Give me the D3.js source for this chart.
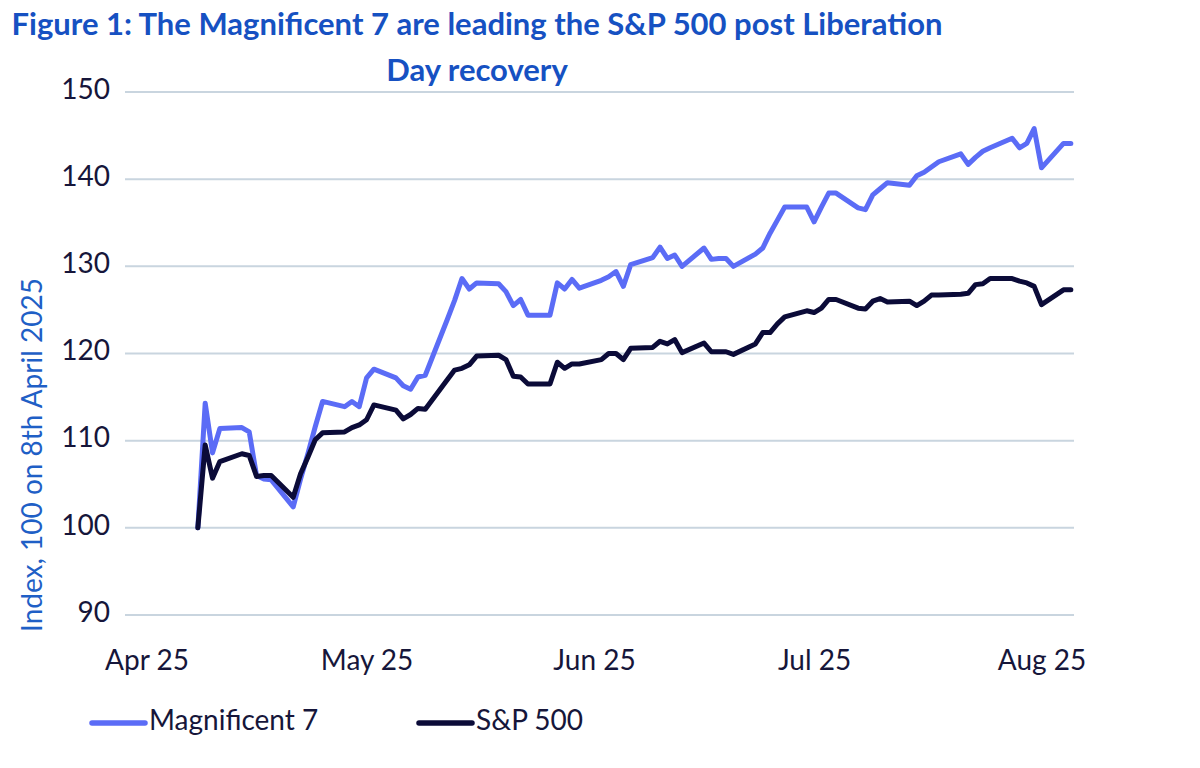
<!DOCTYPE html>
<html lang="en">
<head>
<meta charset="UTF-8">
<title>Figure 1: The Magnificent 7 vs S&amp;P 500</title>
<script src="https://cdn.jsdelivr.net/npm/d3@7"></script>
<style>
  body { margin: 0; background: #fff; }
  svg { display: block; font-family: Lato, "Noto Sans", sans-serif; }
</style>
</head>
<body>
<div id="chart"></div>
<script>
// weekdays from 8 April 2025, holidays carried forward
var dates = [
  "2025-04-08","2025-04-09","2025-04-10","2025-04-11",
  "2025-04-14","2025-04-15","2025-04-16","2025-04-17","2025-04-18",
  "2025-04-21","2025-04-22","2025-04-23","2025-04-24","2025-04-25",
  "2025-04-28","2025-04-29","2025-04-30","2025-05-01","2025-05-02",
  "2025-05-05","2025-05-06","2025-05-07","2025-05-08","2025-05-09",
  "2025-05-12","2025-05-13","2025-05-14","2025-05-15","2025-05-16",
  "2025-05-19","2025-05-20","2025-05-21","2025-05-22","2025-05-23",
  "2025-05-26","2025-05-27","2025-05-28","2025-05-29","2025-05-30",
  "2025-06-02","2025-06-03","2025-06-04","2025-06-05","2025-06-06",
  "2025-06-09","2025-06-10","2025-06-11","2025-06-12","2025-06-13",
  "2025-06-16","2025-06-17","2025-06-18","2025-06-19","2025-06-20",
  "2025-06-23","2025-06-24","2025-06-25","2025-06-26","2025-06-27",
  "2025-06-30","2025-07-01","2025-07-02","2025-07-03","2025-07-04",
  "2025-07-07","2025-07-08","2025-07-09","2025-07-10","2025-07-11",
  "2025-07-14","2025-07-15","2025-07-16","2025-07-17","2025-07-18",
  "2025-07-21","2025-07-22","2025-07-23","2025-07-24","2025-07-25",
  "2025-07-28","2025-07-29","2025-07-30","2025-07-31","2025-08-01",
  "2025-08-04","2025-08-05"
];

var mag7 = [
  100, 114.3, 108.6, 111.4,
  111.5, 111.0, 106.0, 105.6, 105.5,
  102.4, 105.6, 108.5, 111.6, 114.5,
  113.9, 114.5, 113.9, 117.2, 118.2,
  117.2, 116.3, 115.9, 117.3, 117.5,
  123.9, 126.1, 128.6, 127.4, 128.1,
  128.0, 127.1, 125.5, 126.2, 124.4,
  124.4, 128.1, 127.4, 128.5, 127.5,
  128.4, 128.8, 129.4, 127.7, 130.2,
  131.0, 132.2, 130.9, 131.3, 130.0,
  132.1, 130.8, 130.9, 130.9, 130.0,
  131.4, 132.1, 133.8, 135.3, 136.8,
  136.8, 135.1, 136.8, 138.4, 138.4,
  136.7, 136.5, 138.2, 138.9, 139.6,
  139.3, 140.4, 140.8, 141.4, 142.0,
  142.9, 141.7, 142.5, 143.2, 143.6,
  144.7, 143.6, 144.1, 145.8, 141.3,
  144.1, 144.1
];

var sp500 = [
  100, 109.5, 105.7, 107.6,
  108.5, 108.3, 105.9, 106.0, 106.0,
  103.5, 106.2, 108.1, 110.1, 110.9,
  111.0, 111.5, 111.8, 112.4, 114.1,
  113.5, 112.5, 113.0, 113.7, 113.6,
  117.0, 118.1, 118.3, 118.7, 119.7,
  119.8, 119.3, 117.4, 117.3, 116.5,
  116.5, 119.0, 118.3, 118.8, 118.8,
  119.3, 120.0, 120.0, 119.3, 120.6,
  120.7, 121.4, 121.1, 121.6, 120.1,
  121.2, 120.2, 120.2, 120.2, 119.9,
  121.1, 122.4, 122.4, 123.4, 124.2,
  124.9, 124.7, 125.2, 126.2, 126.2,
  125.2, 125.1, 126.0, 126.3, 125.9,
  126.0, 125.5, 126.0, 126.7, 126.7,
  126.8, 126.9, 127.9, 128.0, 128.6,
  128.6, 128.3, 128.1, 127.7, 125.6,
  127.3, 127.3
];

var yTicks = [90, 100, 110, 120, 130, 140, 150];
var xTickDates = ["2025-04-01", "2025-05-01", "2025-06-01", "2025-07-01", "2025-08-01"];
var xTickLabels = ["Apr 25", "May 25", "Jun 25", "Jul 25", "Aug 25"];

var seriesNames = ["Magnificent 7", "S&P 500"];
var seriesColors = ["#5b6cf6", "#0b0b38"];

var width = 1200, height = 768;
var plotLeft = 125, plotRight = 1074;
var parse = d3.utcParse("%Y-%m-%d");

var svg = d3.select("#chart").append("svg")
    .attr("width", width)
    .attr("height", height);

// title, centred and wrapped on two lines
var title = svg.append("text")
    .attr("x", 477)
    .attr("text-anchor", "middle")
    .style("font-size", "31px")
    .style("font-weight", 700)
    .attr("fill", "#1651c2");
title.append("tspan").attr("x", 477).attr("y", 35)
    .text("Figure 1: The Magnificent 7 are leading the S&P 500 post Liberation");
title.append("tspan").attr("x", 477).attr("y", 81)
    .text("Day recovery");

var x = d3.scaleUtc()
    .domain([parse("2025-04-01"), parse("2025-08-01")])
    .range([146.5, 1041.5]);

var y = d3.scaleLinear()
    .domain([90, 150])
    .range([615, 92]);

// gridlines
svg.append("g")
    .selectAll("line")
    .data(yTicks)
    .enter().append("line")
    .attr("x1", plotLeft)
    .attr("x2", plotRight)
    .attr("y1", function(d) { return y(d); })
    .attr("y2", function(d) { return y(d); })
    .attr("stroke", "#c9d5df")
    .attr("stroke-width", 2);

// y axis labels
var yAxis = svg.append("g")
    .attr("transform", "translate(" + 110 + ",0)")
    .call(d3.axisLeft(y).tickValues(yTicks).tickSize(0).tickPadding(0));
yAxis.select(".domain").remove();
yAxis.selectAll("text")
    .attr("dy", "0.22em")
    .style("font-family", "Lato, 'Noto Sans', sans-serif")
    .style("font-size", "28px")
    .attr("fill", "#16163a");

// x axis labels
var xAxis = svg.append("g")
    .attr("transform", "translate(0," + 650 + ")")
    .call(d3.axisBottom(x)
        .tickValues(xTickDates.map(parse))
        .tickFormat(function(d, i) { return xTickLabels[i]; })
        .tickSize(0).tickPadding(0));
xAxis.select(".domain").remove();
xAxis.selectAll("text")
    .style("font-family", "Lato, 'Noto Sans', sans-serif")
    .style("font-size", "28px")
    .attr("fill", "#16163a");

// y axis title
svg.append("text")
    .attr("transform", "translate(42,455) rotate(-90)")
    .attr("text-anchor", "middle")
    .style("font-size", "28px")
    .attr("fill", "#1f5fc6")
    .text("Index, 100 on 8th April 2025");

// lines
var line = d3.line()
    .x(function(d) { return x(d.date); })
    .y(function(d) { return y(d.value); });

[mag7, sp500].forEach(function(values, k) {
    var pts = dates.map(function(d, i) { return {date: parse(d), value: values[i]}; });
    svg.append("path")
        .datum(pts)
        .attr("d", line)
        .attr("fill", "none")
        .attr("stroke", seriesColors[k])
        .attr("stroke-width", 5)
        .attr("stroke-linejoin", "round")
        .attr("stroke-linecap", "round");
});

// legend
var legendX = [92, 419];
seriesNames.forEach(function(name, k) {
    svg.append("line")
        .attr("x1", legendX[k]).attr("x2", legendX[k] + 53)
        .attr("y1", 723).attr("y2", 723)
        .attr("stroke", seriesColors[k])
        .attr("stroke-width", 5.5)
        .attr("stroke-linecap", "round");
    svg.append("text")
        .attr("x", legendX[k] + 57)
        .attr("y", 730)
        .style("font-size", "28px")
        .attr("fill", "#16163a")
        .text(name);
});
</script>
</body>
</html>
